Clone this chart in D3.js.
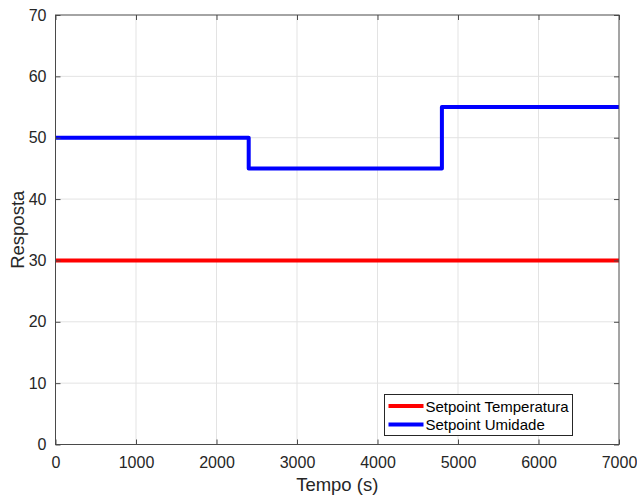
<!DOCTYPE html>
<html>
<head>
<meta charset="utf-8">
<script src="https://cdn.jsdelivr.net/npm/d3@7"></script>
<style>
  body { margin: 0; background: #fff; }
  svg { display: block; font-family: "Liberation Sans", Arial, sans-serif; }
</style>
</head>
<body>
<main></main>
<script>
// series: step setpoints (time in s, value)
const tempoTemp = [0, 7000];
const setpointTemp = [30, 30];
const tempoUmid = [0, 2400, 4800, 7000];
const setpointUmid = [50, 45, 55, 55];
const xTicks = [0, 1000, 2000, 3000, 4000, 5000, 6000, 7000];
const yTicks = [0, 10, 20, 30, 40, 50, 60, 70];
const legendNames = ['Setpoint Temperatura', 'Setpoint Umidade'];

const w = 637;
const h = 495;
const margin = { top: 15, right: 18, bottom: 50.5, left: 55.5 };

const svg = d3.select('main').append('svg').attr('width', w).attr('height', h);

const xScale = d3.scaleLinear().domain([0, 7000]).range([margin.left, w - margin.right]);
const yScale = d3.scaleLinear().domain([0, 70]).range([h - margin.bottom, margin.top]);

const axisColor = '#4a4a4a';
const textColor = '#262626';

// grid
svg.append('g').selectAll('line').data(xTicks.slice(1, -1)).enter().append('line')
    .attr('x1', d => xScale(d)).attr('x2', d => xScale(d))
    .attr('y1', yScale(0)).attr('y2', yScale(70))
    .attr('stroke', '#e3e3e3').attr('stroke-width', 1);
svg.append('g').selectAll('line').data(yTicks.slice(1, -1)).enter().append('line')
    .attr('x1', xScale(0)).attr('x2', xScale(7000))
    .attr('y1', d => yScale(d)).attr('y2', d => yScale(d))
    .attr('stroke', '#e3e3e3').attr('stroke-width', 1);

// lines
const line = d3.line().curve(d3.curveStepAfter);
svg.append('path')
    .attr('d', line(tempoTemp.map((t, i) => [xScale(t), yScale(setpointTemp[i])])))
    .attr('fill', 'none').attr('stroke', '#ff0000').attr('stroke-width', 4);
svg.append('path')
    .attr('d', line(tempoUmid.map((t, i) => [xScale(t), yScale(setpointUmid[i])])))
    .attr('fill', 'none').attr('stroke', '#0000ff').attr('stroke-width', 4)
    .attr('stroke-linejoin', 'round');

// axes (ticks inside, box on)
function styleAxis(g) {
    g.select('.domain').remove();
    g.selectAll('.tick line').attr('stroke', axisColor);
    g.selectAll('.tick text').attr('fill', textColor).style('font-size', '16px')
        .style('font-family', '"Liberation Sans", Arial, sans-serif');
}
svg.append('g').attr('transform', `translate(0, ${yScale(0)})`)
    .call(d3.axisBottom(xScale).tickValues(xTicks).tickSize(-5).tickPadding(12).tickFormat(d3.format('d')))
    .call(styleAxis);
svg.append('g').attr('transform', `translate(0, ${yScale(70)})`)
    .call(d3.axisTop(xScale).tickValues(xTicks).tickSize(-5).tickFormat(''))
    .call(styleAxis);
svg.append('g').attr('transform', `translate(${xScale(0)}, 0)`)
    .call(d3.axisLeft(yScale).tickValues(yTicks).tickSize(-5).tickPadding(9))
    .call(styleAxis);
svg.append('g').attr('transform', `translate(${xScale(7000)}, 0)`)
    .call(d3.axisRight(yScale).tickValues(yTicks).tickSize(-5).tickFormat(''))
    .call(styleAxis);

svg.append('rect')
    .attr('x', xScale(0)).attr('y', yScale(70))
    .attr('width', xScale(7000) - xScale(0)).attr('height', yScale(0) - yScale(70))
    .attr('fill', 'none').attr('stroke', axisColor).attr('stroke-width', 1);

// axis titles
svg.append('text')
    .attr('x', (xScale(0) + xScale(7000)) / 2).attr('y', 491)
    .attr('text-anchor', 'middle').attr('fill', textColor).style('font-size', '18.5px')
    .text('Tempo (s)');
svg.append('text')
    .attr('transform', `translate(24, ${(yScale(0) + yScale(70)) / 2}) rotate(-90)`)
    .attr('text-anchor', 'middle').attr('fill', textColor).style('font-size', '18.5px')
    .text('Resposta');

// legend
const legend = svg.append('g').attr('transform', 'translate(384.5, 394.5)');
legend.append('rect').attr('width', 188).attr('height', 41)
    .attr('fill', '#fff').attr('stroke', '#262626').attr('stroke-width', 1);
const colors = ['#ff0000', '#0000ff'];
legendNames.forEach((name, i) => {
    const y = 11.5 + i * 18.5;
    legend.append('line').attr('x1', 4).attr('x2', 39).attr('y1', y).attr('y2', y)
        .attr('stroke', colors[i]).attr('stroke-width', 4);
    legend.append('text').attr('x', 41).attr('y', y + 5.5)
        .attr('fill', '#000').style('font-size', '15px').text(name);
});
</script>
</body>
</html>
